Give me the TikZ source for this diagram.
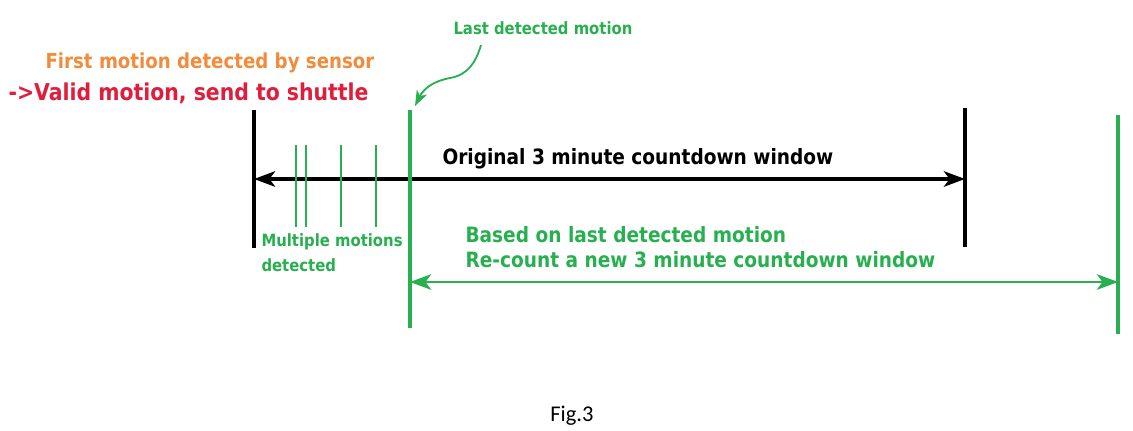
\documentclass[tikz,border=0pt]{standalone}
\usepackage{fontspec}
\setmainfont{DejaVu Sans}[FakeStretch=0.88]
\newfontfamily\figfont{Carlito}
\usetikzlibrary{arrows.meta,positioning}
\definecolor{motiongreen}{RGB}{40,175,80}
\definecolor{firstorange}{RGB}{240,140,60}
\definecolor{validred}{RGB}{222,30,60}
\tikzset{every picture/.style={line width=0.75pt}}
\tikzset{
  bar/.style={line width=2.6pt},
  tick/.style={motiongreen, line width=1.3pt},
  window/.style={line width=2.4pt, {Stealth[length=15pt,width=11pt,inset=4pt]}-{Stealth[length=15pt,width=11pt,inset=4pt]}},
  label/.style={font=\bfseries\fontsize{15}{18}\selectfont, inner sep=0pt, anchor=west},
  smalllabel/.style={font=\bfseries\fontsize{12}{14}\selectfont, inner sep=0pt, anchor=west, motiongreen}
}

\begin{document}
\begin{tikzpicture}[x=0.025cm, y=-0.025cm]
    \useasboundingbox (0,0) rectangle (1133,431);
    % 原始窗口
    \coordinate (oldtop) at (254,110);
    \coordinate (oldbot) at (254,248);
    \coordinate (endtop) at (965,108);
    \coordinate (endbot) at (965,247);
    \coordinate (oldl) at (254,179);
    \coordinate (oldr) at (965,179);
    \draw[bar] (oldtop) -- (oldbot);
    \draw[bar] (endtop) -- (endbot);
    \draw[window] (oldl) -- (oldr);
    \node[label] (orig) at (442,159) {Original 3 minute countdown window};
    % 多次检测
    \foreach \x in {296,306,341,376}
        \draw[tick] (\x,145) -- (\x,227);
    \node[smalllabel] (multi) at (261,242) {Multiple motions};
    \node[smalllabel, below=5pt of multi.south west, anchor=north west] (multib) {detected};
    % 新窗口
    \coordinate (lasttop) at (410,110);
    \coordinate (lastbot) at (410,328);
    \coordinate (newtop) at (1118,115);
    \coordinate (newbot) at (1118,334);
    \coordinate (newl) at (410,282);
    \coordinate (newr) at (1118,282);
    \draw[bar, motiongreen] (lasttop) -- (lastbot);
    \draw[bar, motiongreen] (newtop) -- (newbot);
    \draw[window, line width=2.1pt, motiongreen] (newl) -- (newr);
    \node[label, motiongreen] (based) at (465,235) {Based on last detected motion};
    \node[label, motiongreen] (recount) at (465,260) {Re-count a new 3 minute countdown window};
    % 最后一次检测
    \node[smalllabel] (last) at (453,28) {Last detected motion};
    \coordinate (lastarr) at (415,106);
    \draw[motiongreen, line width=1.3pt, -{Stealth[length=11pt,width=8pt,inset=3pt]}]
        (481,45) .. controls (476,62) and (468,75) .. (450,78)
        .. controls (434,81) and (424,88) .. (lastarr);
    % 第一次检测
    \node[label, firstorange, font=\bfseries\fontsize{14.7}{17}\selectfont] (first) at (45,63) {First motion detected by sensor};
    \node[label, validred, font=\bfseries\fontsize{16.5}{19}\selectfont] (valid) at (8,93) {->Valid motion, send to shuttle};
    % 图号
    \node[font=\figfont\fontsize{16}{18}\selectfont] (fig) at (572,416) {Fig.3};
\end{tikzpicture}
\end{document}
